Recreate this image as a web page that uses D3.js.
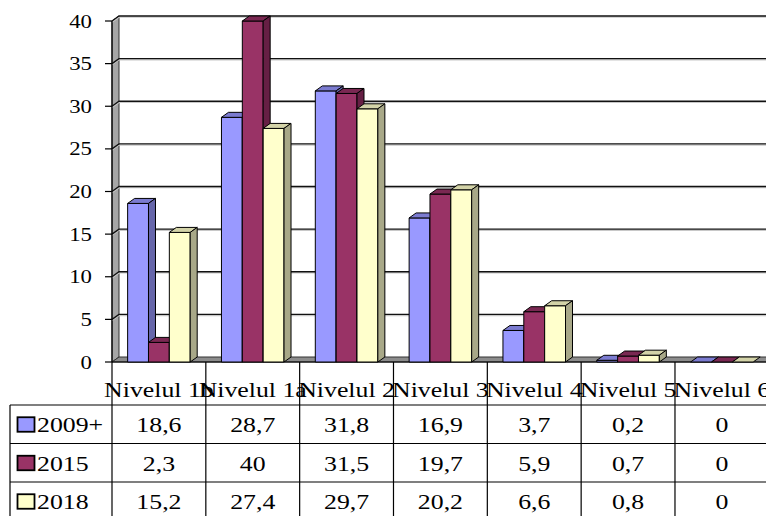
<!DOCTYPE html>
<html>
<head>
<meta charset="utf-8">
<script src="https://cdn.jsdelivr.net/npm/d3@7"></script>
<style>
  html, body { margin: 0; padding: 0; background: #fff; }
  svg { display: block; }
  text { font-family: "Liberation Serif", "Times New Roman", serif; fill: #000; }
</style>
</head>
<body>
<svg id="chart" width="766" height="516"></svg>
<script>
// Proficiency levels and shares per cohort
const categories = ["Nivelul 1b", "Nivelul 1a", "Nivelul 2", "Nivelul 3", "Nivelul 4", "Nivelul 5", "Nivelul 6"];
const seriesNames = ["2009+", "2015", "2018"];
const values2009 = [18.6, 28.7, 31.8, 16.9, 3.7, 0.2, 0];
const values2015 = [2.3, 40, 31.5, 19.7, 5.9, 0.7, 0];
const values2018 = [15.2, 27.4, 29.7, 20.2, 6.6, 0.8, 0];
const valueLabels2009 = ["18,6", "28,7", "31,8", "16,9", "3,7", "0,2", "0"];
const valueLabels2015 = ["2,3", "40", "31,5", "19,7", "5,9", "0,7", "0"];
const valueLabels2018 = ["15,2", "27,4", "29,7", "20,2", "6,6", "0,8", "0"];
const yTicks = [0, 5, 10, 15, 20, 25, 30, 35, 40];

const series = [
  { name: seriesNames[0], values: values2009, labels: valueLabels2009,
    front: "#9999ff", top: "#7b7bd0", side: "#6666aa" },
  { name: seriesNames[1], values: values2015, labels: valueLabels2015,
    front: "#993366", top: "#7a2852", side: "#661f44" },
  { name: seriesNames[2], values: values2018, labels: valueLabels2018,
    front: "#ffffcc", top: "#d3d3a8", side: "#a8a888" }
];

const svg = d3.select("#chart");
const W = 766;
const plotLeft = 112;
const bandW = 93.83;
const depthX = 7, depthY = -5;

const x = d3.scaleBand().domain(categories)
  .range([plotLeft, plotLeft + bandW * categories.length]).padding(0);
const xs = d3.scaleBand().domain(seriesNames)
  .range([0, x.bandwidth()]).paddingInner(0).paddingOuter(0.75);
const y = d3.scaleLinear().domain([0, 40]).range([362, 21]);

const SX = 1.2; // horizontal stretch of the lettering
function label(g, str, px, py, size, anchor) {
  return g.append("text")
    .attr("transform", `translate(${px},${py}) scale(${SX},1)`)
    .attr("text-anchor", anchor)
    .attr("font-size", size)
    .text(str);
}
const poly = pts => "M" + pts.map(p => p.join(",")).join("L") + "Z";

const right = W + 20;
const y0 = y(0), yTop = y(40);

// back wall
svg.append("path")
  .attr("d", poly([[plotLeft + depthX, yTop + depthY], [right, yTop + depthY],
                   [right, y0 + depthY], [plotLeft + depthX, y0 + depthY]]))
  .attr("fill", "#fff");

// side wall
svg.append("path")
  .attr("d", poly([[plotLeft, yTop], [plotLeft + depthX, yTop + depthY],
                   [plotLeft + depthX, y0 + depthY], [plotLeft, y0]]))
  .attr("fill", "#a6a6a6").attr("stroke", "#333").attr("stroke-width", 1);

// floor
svg.append("path")
  .attr("d", poly([[plotLeft, y0], [plotLeft + depthX, y0 + depthY],
                   [right, y0 + depthY], [right, y0]]))
  .attr("fill", "#8c8c8c").attr("stroke", "#333").attr("stroke-width", 1);

// gridlines on the walls
const grid = svg.append("g");
yTicks.filter(t => t > 0).forEach(t => {
  const yy = y(t);
  grid.append("path")
    .attr("d", `M${plotLeft},${yy}L${plotLeft + depthX},${yy + depthY}L${right},${yy + depthY}`)
    .attr("fill", "none").attr("stroke", "#c8c8c8").attr("stroke-width", 1.2)
    .attr("transform", "translate(0,1.2)");
  grid.append("path")
    .attr("d", `M${plotLeft},${yy}L${plotLeft + depthX},${yy + depthY}L${right},${yy + depthY}`)
    .attr("fill", "none").attr("stroke", "#111").attr("stroke-width", 1.3);
});

// value axis ticks and labels
const yAxis = svg.append("g");
yTicks.forEach(t => {
  yAxis.append("line").attr("x1", plotLeft - 7).attr("x2", plotLeft)
    .attr("y1", y(t)).attr("y2", y(t)).attr("stroke", "#000").attr("stroke-width", 1.2);
  label(yAxis, String(t), 92, y(t) + 6.5, 19, "end");
});
// front axis line
svg.append("line").attr("x1", plotLeft).attr("x2", right)
  .attr("y1", y0).attr("y2", y0).attr("stroke", "#000").attr("stroke-width", 1.2);
svg.append("line").attr("x1", plotLeft).attr("x2", plotLeft)
  .attr("y1", yTop).attr("y2", y0).attr("stroke", "#000").attr("stroke-width", 1.2);

// 3D bars, drawn left to right so later fronts cover earlier sides
const bars = svg.append("g").attr("stroke", "#000").attr("stroke-width", 1).attr("stroke-linejoin", "round");
categories.forEach((c, ci) => {
  series.forEach(s => {
    const v = s.values[ci];
    const bx = x(c) + xs(s.name);
    const bw = xs.bandwidth();
    const by = y(v);
    if (v > 0) {
      bars.append("rect").attr("x", bx).attr("y", by).attr("width", bw).attr("height", y0 - by)
        .attr("fill", s.front);
    }
    bars.append("path")
      .attr("d", poly([[bx, by], [bx + depthX, by + depthY], [bx + bw + depthX, by + depthY], [bx + bw, by]]))
      .attr("fill", s.top);
    if (v > 0) {
      bars.append("path")
        .attr("d", poly([[bx + bw, by], [bx + bw + depthX, by + depthY], [bx + bw + depthX, y0 + depthY], [bx + bw, y0]]))
        .attr("fill", s.side);
    }
  });
});

// data table
const table = svg.append("g");
const rowTop = [405, 443.5, 482];
const rowH = 38.5;
const tableLeft = 10;
const lineAttrs = sel => sel.attr("stroke", "#000").attr("stroke-width", 1.2);

// category header
categories.forEach(c => {
  label(table, c, x(c) + x.bandwidth() / 2, 397, 21.5, "middle");
});
// vertical rules
const bounds = categories.map(c => x(c)).concat([x.range()[1]]);
bounds.forEach(bx => {
  table.append("line").attr("x1", bx).attr("x2", bx).attr("y1", y0).attr("y2", 530).call(lineAttrs);
});
table.append("line").attr("x1", tableLeft).attr("x2", tableLeft)
  .attr("y1", rowTop[0]).attr("y2", 530).call(lineAttrs);
// horizontal rules
rowTop.forEach(ry => {
  table.append("line").attr("x1", tableLeft).attr("x2", right).attr("y1", ry).attr("y2", ry).call(lineAttrs);
});
// rows
series.forEach((s, si) => {
  const cy = rowTop[si] + rowH / 2;
  table.append("rect").attr("x", 17.5).attr("y", cy - 7).attr("width", 17).attr("height", 14.5)
    .attr("fill", s.front).attr("stroke", "#000").attr("stroke-width", 1.8);
  label(table, s.name, 37, cy + 8, 21.5, "start");
  categories.forEach((c, ci) => {
    label(table, s.labels[ci], x(c) + x.bandwidth() / 2, cy + 8, 21.5, "middle");
  });
});
</script>
</body>
</html>
